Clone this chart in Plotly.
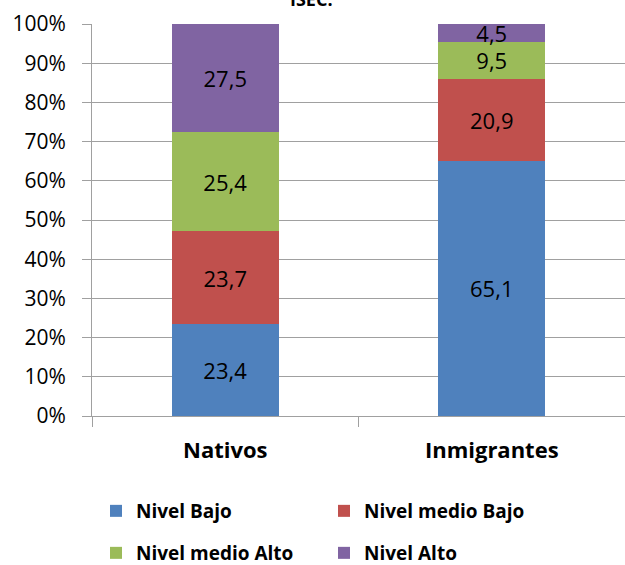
import plotly.graph_objects as go

categories = ["Nativos", "Inmigrantes"]
series_names = ["Nivel Bajo", "Nivel medio Bajo", "Nivel medio Alto", "Nivel Alto"]
nivel_bajo = [23.4, 65.1]
nivel_medio_bajo = [23.7, 20.9]
nivel_medio_alto = [25.4, 9.5]
nivel_alto = [27.5, 4.5]
colors = ["#4F81BD", "#C0504D", "#9BBB59", "#8064A2"]
y_tick_vals = [0, 10, 20, 30, 40, 50, 60, 70, 80, 90, 100]
y_tick_text = [f"{v}%" for v in y_tick_vals]

FONT = "Open Sans"
series = [nivel_bajo, nivel_medio_bajo, nivel_medio_alto, nivel_alto]
legends = ["legend", "legend", "legend2", "legend2"]

fig = go.Figure()
for name, vals, col, lg in zip(series_names, series, colors, legends):
    fig.add_trace(go.Bar(
        x=categories, y=vals, name=name,
        marker=dict(color=col, line=dict(width=0)),
        text=[f"{v:.1f}".replace(".", ",") for v in vals],
        textposition="inside", insidetextanchor="middle",
        textfont=dict(family=FONT, size=22, color="black"),
        legend=lg,
    ))

legend_common = dict(
    orientation="h", xanchor="left", yanchor="middle",
    font=dict(family=FONT, size=19, color="black", weight="bold"),
    bgcolor="rgba(0,0,0,0)",
    entrywidth=183, entrywidthmode="pixels",
    traceorder="normal", xref="paper", yref="paper",
)

fig.update_layout(
    width=625, height=565,
    margin=dict(l=92, r=0, t=24, b=149, autoexpand=False),
    barmode="stack", bargap=0.6,
    plot_bgcolor="white", paper_bgcolor="white",
    font=dict(family=FONT, color="black"),
    xaxis=dict(
        tickfont=dict(family=FONT, size=22, color="black", weight="bold"),
        showline=True, linecolor="#A0A0A0", linewidth=1,
        ticks="outside", tickson="boundaries", ticklen=10, tickcolor="#A0A0A0",
        showgrid=False, ticklabelstandoff=15,
    ),
    yaxis=dict(
        range=[0, 100], tickvals=y_tick_vals, ticktext=y_tick_text,
        tickfont=dict(family=FONT, size=21, color="black"),
        showline=True, linecolor="#A0A0A0", linewidth=1,
        ticks="outside", ticklen=9, tickcolor="#A0A0A0",
        showgrid=True, gridcolor="#A0A0A0", gridwidth=1,
        zeroline=False, ticklabelstandoff=12,
    ),
    legend=dict(x=(96 - 92) / 533, y=(416 - 511) / 392, **legend_common),
    legend2=dict(x=(96 - 92) / 533, y=(416 - 553) / 392, **legend_common),
    showlegend=True,
    uniformtext=dict(mode="show", minsize=10),
)
fig.add_annotation(
    text="<b>ISEC.</b>", x=(311 - 92) / 533, xref="paper", y=1 + 11 / 392, yref="paper",
    yanchor="bottom", showarrow=False,
    font=dict(family=FONT, size=18, color="black"),
)

fig.write_html(
    "out.html",
    config={"displayModeBar": False},
    post_script="document.body.style.margin='0';document.body.style.overflow='hidden';",
)
